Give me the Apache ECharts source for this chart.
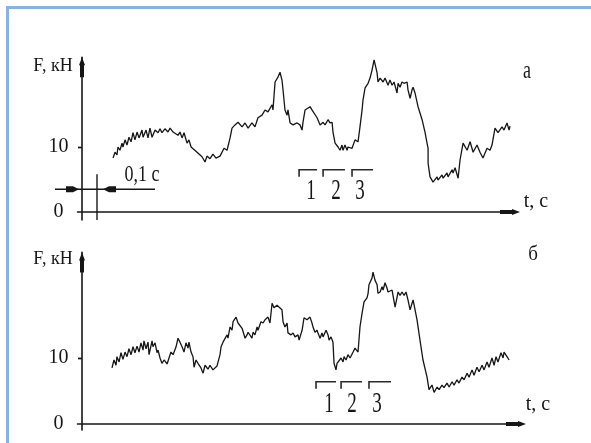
<!DOCTYPE html>
<html>
<head>
<meta charset="utf-8">
<script src="https://cdn.jsdelivr.net/npm/echarts@6/dist/echarts.min.js"></script>
<style>
  html, body { margin: 0; padding: 0; background: #fff; }
  #chart { width: 591px; height: 443px; }
</style>
</head>
<body>
<div id="chart"></div>
<script>
// Force record F(t), case "а": [time, s ; force, kN]
const forceA = [
  [0.207,8.3],[0.220,9.2],[0.233,8.8],[0.240,10.0],[0.253,9.5],[0.267,10.6],[0.273,10.0],[0.287,11.1],[0.300,10.3],[0.313,11.5],
  [0.327,10.8],[0.340,12.2],[0.353,11.1],[0.367,12.3],[0.380,11.4],[0.400,12.6],[0.407,11.5],[0.427,12.6],[0.440,11.4],[0.453,12.9],
  [0.467,11.5],[0.487,12.6],[0.507,12.2],[0.520,12.8],[0.533,12.2],[0.553,12.8],[0.573,12.3],[0.587,12.9],[0.607,12.3],[0.620,12.6],
  [0.640,11.8],[0.653,12.3],[0.667,11.4],[0.680,12.2],[0.700,10.6],[0.713,11.1],[0.727,10.0],[0.740,10.3],[0.767,9.2],[0.773,9.5],
  [0.800,8.5],[0.807,8.8],[0.820,7.7],[0.833,8.6],[0.853,8.2],[0.873,8.9],[0.893,8.3],[0.920,8.6],[0.947,9.8],[0.967,9.5],
  [0.987,11.4],[1.000,12.9],[1.020,13.4],[1.040,13.8],[1.067,13.1],[1.087,13.7],[1.107,12.9],[1.133,13.7],[1.153,13.1],[1.173,14.5],
  [1.200,14.9],[1.220,15.7],[1.240,15.4],[1.267,16.5],[1.273,15.7],[1.287,20.0],[1.307,20.8],[1.320,21.5],[1.333,20.3],[1.340,18.8],
  [1.353,15.7],[1.367,14.9],[1.373,15.7],[1.387,13.7],[1.407,13.4],[1.433,13.7],[1.453,13.4],[1.467,12.6],[1.473,13.8],[1.487,15.7],
  [1.500,15.4],[1.520,16.2],[1.533,15.7],[1.540,16.0],[1.567,14.5],[1.587,13.4],[1.607,13.8],[1.620,13.4],[1.640,14.2],[1.653,13.7],
  [1.667,13.8],[1.673,12.3],[1.687,10.6],[1.707,10.0],[1.720,9.5],[1.733,10.3],[1.740,9.5],[1.753,10.3],[1.767,9.5],[1.773,10.0],
  [1.800,9.8],[1.820,11.1],[1.833,11.4],[1.840,10.8],[1.853,13.1],[1.867,15.7],[1.873,17.2],[1.887,19.1],[1.900,19.2],[1.907,19.8],
  [1.920,20.6],[1.933,21.8],[1.947,23.4],[1.967,21.4],[1.973,20.0],[1.987,20.6],[2.007,20.0],[2.020,20.6],[2.040,19.5],[2.053,20.3],
  [2.067,19.5],[2.080,20.0],[2.100,18.3],[2.107,19.8],[2.120,19.2],[2.133,20.0],[2.147,19.8],[2.167,20.0],[2.173,18.8],[2.187,17.5],
  [2.200,18.8],[2.207,19.2],[2.220,18.3],[2.240,16.2],[2.267,14.2],[2.287,12.2],[2.300,10.6],[2.307,9.8],[2.307,7.5],[2.320,5.4],
  [2.340,4.6],[2.367,5.4],[2.373,4.9],[2.400,5.7],[2.407,5.2],[2.433,6.0],[2.440,5.4],[2.467,6.5],[2.473,6.0],[2.487,6.8],
  [2.507,5.2],[2.520,8.0],[2.540,10.6],[2.567,9.5],[2.587,10.8],[2.607,9.2],[2.633,10.3],[2.653,9.2],[2.673,8.3],[2.700,9.8],
  [2.720,9.5],[2.733,10.3],[2.753,12.9],[2.773,12.2],[2.800,13.1],[2.813,12.6],[2.833,13.7],[2.847,12.6],[2.853,13.2]
];

// Force record F(t), case "б": [time, s ; force, kN]
const forceB = [
  [0.200,8.5],[0.213,9.7],[0.227,8.9],[0.233,10.2],[0.247,9.4],[0.260,10.8],[0.273,9.8],[0.287,10.9],[0.300,10.2],[0.313,11.4],
  [0.327,10.5],[0.340,11.7],[0.353,10.8],[0.367,11.8],[0.380,10.9],[0.393,12.3],[0.407,11.2],[0.413,12.6],[0.427,11.4],[0.440,12.4],
  [0.447,10.5],[0.467,12.6],[0.473,11.7],[0.487,12.3],[0.500,10.8],[0.507,11.2],[0.520,10.0],[0.533,9.2],[0.547,9.7],[0.567,9.1],
  [0.580,10.0],[0.593,10.9],[0.607,10.5],[0.627,11.7],[0.640,13.0],[0.653,12.4],[0.667,11.7],[0.680,10.9],[0.693,12.3],[0.707,11.5],
  [0.713,12.4],[0.727,10.9],[0.740,10.2],[0.747,8.6],[0.760,9.7],[0.773,9.2],[0.793,8.5],[0.807,7.7],[0.820,8.9],[0.840,8.3],
  [0.853,8.9],[0.873,8.2],[0.900,8.8],[0.913,8.5],[0.920,10.5],[0.927,11.7],[0.940,12.4],[0.953,12.3],[0.967,13.5],[0.973,13.0],
  [0.987,14.7],[1.000,14.2],[1.007,15.5],[1.027,16.2],[1.040,15.3],[1.067,14.5],[1.087,13.0],[1.100,13.5],[1.107,13.9],[1.133,13.0],
  [1.140,13.9],[1.153,13.5],[1.167,14.7],[1.173,14.2],[1.193,15.5],[1.207,15.3],[1.220,15.8],[1.233,15.5],[1.240,16.2],[1.253,15.3],
  [1.267,18.3],[1.280,17.6],[1.300,18.0],[1.313,18.3],[1.333,17.3],[1.340,15.5],[1.353,14.7],[1.367,15.3],[1.373,13.8],[1.393,13.5],
  [1.407,13.8],[1.420,13.2],[1.440,13.5],[1.447,12.7],[1.467,14.2],[1.480,16.1],[1.500,15.8],[1.520,16.2],[1.533,15.3],[1.540,14.7],
  [1.553,13.9],[1.567,14.2],[1.573,13.8],[1.587,13.0],[1.600,13.8],[1.607,13.2],[1.627,14.2],[1.640,13.5],[1.647,12.7],[1.660,13.2],
  [1.673,12.4],[1.680,9.2],[1.693,8.2],[1.700,9.2],[1.713,8.9],[1.727,10.0],[1.740,9.4],[1.747,10.2],[1.760,9.7],[1.773,10.5],
  [1.787,10.0],[1.807,10.9],[1.820,11.5],[1.840,10.9],[1.853,14.7],[1.867,16.8],[1.880,18.5],[1.900,19.1],[1.907,19.8],[1.913,21.1],
  [1.933,22.1],[1.940,23.0],[1.953,21.8],[1.967,21.1],[1.973,19.8],[1.987,20.0],[2.000,20.8],[2.007,20.3],[2.020,21.4],[2.033,20.6],
  [2.040,20.0],[2.053,19.8],[2.067,20.3],[2.073,19.5],[2.087,17.7],[2.100,19.2],[2.107,20.0],[2.120,19.5],[2.133,20.0],[2.147,19.5],
  [2.160,20.0],[2.173,18.8],[2.187,17.3],[2.200,18.3],[2.207,18.8],[2.233,15.8],[2.253,12.7],[2.273,9.7],[2.300,7.1],[2.313,5.2],
  [2.333,5.9],[2.347,4.8],[2.367,5.6],[2.380,5.2],[2.400,5.9],[2.413,5.5],[2.433,6.2],[2.447,5.6],[2.467,6.4],[2.480,5.9],
  [2.500,6.7],[2.513,6.2],[2.533,7.1],[2.547,6.7],[2.567,7.7],[2.580,7.1],[2.600,8.2],[2.613,7.4],[2.633,8.6],[2.647,7.9],
  [2.667,8.9],[2.680,8.2],[2.700,9.4],[2.713,8.6],[2.733,10.0],[2.747,8.9],[2.760,10.2],[2.773,9.4],[2.793,10.8],[2.807,10.0],
  [2.813,10.9],[2.833,10.2],[2.847,9.7]
];

// Marked intervals 1, 2, 3: [start s, end s, level kN]
const intervalsA = [[1.447,1.567,6.5],[1.607,1.753,6.5],[1.800,1.940,6.5]];
const intervalsB = [[1.560,1.693,6.4],[1.727,1.867,6.4],[1.913,2.060,6.4]];
// Interval numbers and where they sit: [t s, F kN]
const intervalNames = ['1', '2', '3'];
const intervalLabelsA = [[1.527,3.1],[1.693,3.1],[1.853,3.1]];
const intervalLabelsB = [[1.647,3.0],[1.800,3.0],[1.967,3.0]];

// Time scale bar "0,1 c": span in s and the force level it is drawn at
const scaleBarSpan = [0, 0.1];
const scaleBarLevel = 3.5;

// Axis ranges and ticks
const timeRange = [-0.03, 2.853];
const forceRangeA = [-1.23, 23.8];
const forceRangeB = [-0.91, 26];
const forceLabelValues = [0, 10];
const forceTickValues = [10];

const FONT = "'Liberation Serif','DejaVu Serif',serif";
const INK = '#161616';
const ARROW = 'path://M3,0 L6,8 L5,8 L5,20 L1,20 L1,8 L0,8 Z';

const chart = echarts.init(document.getElementById('chart'));

function xAxisFor(gridIndex, tipOffset) {
  return {
    type: 'value', gridIndex, min: timeRange[0], max: timeRange[1],
    axisLine: { show: true, onZero: true, symbol: ['none', ARROW], symbolSize: [6, 20],
      symbolOffset: [0, tipOffset], lineStyle: { color: INK, width: 1.6 } },
    axisTick: { show: false }, axisLabel: { show: false }, splitLine: { show: false }
  };
}

function yAxesFor(gridIndex, range) {
  return [{
    type: 'value', gridIndex, min: range[0], max: range[1],
    axisLine: { show: true, onZero: true, onZeroAxisIndex: gridIndex,
      symbol: ['none', ARROW], symbolSize: [6, 20], symbolOffset: [0, -10],
      lineStyle: { color: INK, width: 1.6 } },
    axisTick: { show: true, length: 4, customValues: forceTickValues, lineStyle: { color: INK, width: 1.4 } },
    axisLabel: { show: true, customValues: forceLabelValues, margin: 19, align: 'center',
      fontFamily: FONT, fontSize: 20, color: INK },
    splitLine: { show: false }
  }, {
    type: 'value', gridIndex, min: range[0], max: range[1],
    axisLine: { show: false, onZero: true, onZeroAxisIndex: gridIndex },
    axisTick: { show: true, inside: true, length: 4, customValues: forceTickValues, lineStyle: { color: INK, width: 1.4 } },
    axisLabel: { show: false }, splitLine: { show: false }
  }];
}

function traceSeries(data, gridIndex) {
  return {
    type: 'line', xAxisIndex: gridIndex, yAxisIndex: gridIndex * 2,
    data, showSymbol: false, symbol: 'none', clip: false, smooth: false,
    lineStyle: { color: INK, width: 1.3 }, z: 5
  };
}

function intervalSeries(intervals, labels, gridIndex) {
  return {
    type: 'custom', xAxisIndex: gridIndex, yAxisIndex: gridIndex * 2, clip: false,
    data: intervals,
    renderItem(params, api) {
      const a = api.coord([api.value(0), api.value(2)]);
      const b = api.coord([api.value(1), api.value(2)]);
      const lab = labels[params.dataIndex];
      const lp = api.coord(lab);
      return {
        type: 'group',
        children: [
          { type: 'polyline', shape: { points: [[a[0], a[1] + 7], [a[0], a[1]], [b[0], b[1]]] },
            style: { stroke: '#2a2a2a', lineWidth: 1.6, fill: null } },
          { type: 'text', x: lp[0], y: lp[1], scaleY: 1.5,
            style: { text: intervalNames[params.dataIndex], font: `19px ${FONT}`, fill: INK,
              align: 'center', verticalAlign: 'middle', textAlign: 'center', textVerticalAlign: 'middle' } }
        ]
      };
    }
  };
}

const scaleBarSeries = {
  type: 'custom', xAxisIndex: 0, yAxisIndex: 0, clip: false,
  data: [scaleBarSpan],
  renderItem(params, api) {
    const p0 = api.coord([api.value(0), scaleBarLevel]);
    const p1 = api.coord([api.value(1), scaleBarLevel]);
    const bottom = api.coord([api.value(1), forceRangeA[0]]);
    const y = p0[1];
    const tipL = p0[0] - 3, tipR = p1[0] + 6;
    return {
      type: 'group',
      children: [
        { type: 'line', shape: { x1: p1[0], y1: y - 15, x2: p1[0], y2: bottom[1] },
          style: { stroke: INK, lineWidth: 1.4 } },
        { type: 'line', shape: { x1: p0[0] - 27, y1: y, x2: p1[0] + 58, y2: y },
          style: { stroke: INK, lineWidth: 1.4 } },
        { type: 'polygon', shape: { points: [[tipL, y], [tipL - 6, y - 3], [tipL - 13, y - 3], [tipL - 13, y + 3], [tipL - 6, y + 3]] },
          style: { fill: INK } },
        { type: 'polygon', shape: { points: [[tipR, y], [tipR + 6, y - 3], [tipR + 13, y - 3], [tipR + 13, y + 3], [tipR + 6, y + 3]] },
          style: { fill: INK } },
        { type: 'text', x: p1[0] + 45, y: y - 14, scaleY: 1.25,
          style: { text: '0,1 c', font: `18px ${FONT}`, fill: INK,
            align: 'center', verticalAlign: 'middle', textAlign: 'center', textVerticalAlign: 'middle' } }
      ]
    };
  }
};

function label(text, x, y, size, sy) {
  return { type: 'text', x, y, scaleY: sy || 1, z: 10,
    style: { text, font: `${size}px ${FONT}`, fill: INK,
      align: 'center', verticalAlign: 'middle', textAlign: 'center', textVerticalAlign: 'middle' } };
}

const option = {
  animation: false,
  backgroundColor: '#ffffff',
  grid: [
    { left: 77.5, right: 81, top: 57.3, height: 162.7, containLabel: false },
    { left: 77.5, right: 81, top: 252.4, height: 177.6, containLabel: false }
  ],
  xAxis: [xAxisFor(0, 0), xAxisFor(1, 6)],
  yAxis: [...yAxesFor(0, forceRangeA), ...yAxesFor(1, forceRangeB)],
  series: [
    traceSeries(forceA, 0),
    traceSeries(forceB, 1),
    intervalSeries(intervalsA, intervalLabelsA, 0),
    intervalSeries(intervalsB, intervalLabelsB, 1),
    scaleBarSeries
  ],
  graphic: [
    { type: 'line', shape: { x1: 6, y1: 7.5, x2: 591, y2: 7.5 }, style: { stroke: '#86b3e2', lineWidth: 3 } },
    { type: 'line', shape: { x1: 7.5, y1: 6, x2: 7.5, y2: 443 }, style: { stroke: '#86b3e2', lineWidth: 3 } },
    label('F, кН', 53, 66, 18, 1.1),
    label('F, кН', 53, 259, 18, 1.1),
    label('t, c', 536, 202, 20),
    label('t, c', 538, 405, 20),
    label('а', 527, 72, 18, 1.35),
    label('б', 533, 255, 19, 1.05)
  ]
};

chart.setOption(option);
</script>
</body>
</html>
